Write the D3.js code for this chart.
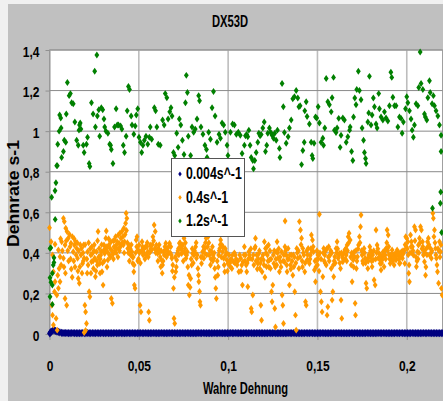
<!DOCTYPE html>
<html><head><meta charset="utf-8">
<script src="https://cdn.jsdelivr.net/npm/d3@7"></script>
<style>
html,body{margin:0;padding:0;background:#f0f0f0;}
svg{display:block;}
text{font-family:"Liberation Sans",Arial,sans-serif;}
</style></head><body>
<svg id="chart" width="443" height="401"></svg>
<script>
// Titles, legend names and tick values
const chartTitle = "DX53D";
const xTitle = "Wahre Dehnung";
const yTitle = "Dehnrate s-1";
const seriesNames = ["0.004s^-1", "0.4s^-1", "1.2s^-1"];
const seriesColors = ["#000080", "#ff9900", "#008000"];
const xTicks = [0, 0.05, 0.1, 0.15, 0.2];
const yTicks = [0, 0.2, 0.4, 0.6, 0.8, 1, 1.2, 1.4];

// Measured points: [wahre Dehnung, Dehnrate]
const rate0004 = [
[0.0002,0.003],[0.001,0.012],[0.0018,0.016],[0.0026,0.018],[0.0034,0.015],[0.0042,0.012],[0.005,0.010],[0.0058,0.008],
[0.0068,0.006],[0.0082,0.005],[0.0098,0.005],[0.0115,0.004],[0.0132,0.005],[0.015,0.004],[0.0168,0.004],[0.0186,0.005],
[0.0204,0.004],[0.0222,0.004],[0.024,0.005],[0.0258,0.004],[0.0276,0.004],[0.0294,0.005],[0.0312,0.004],[0.033,0.004],
[0.0348,0.004],[0.0366,0.005],[0.0384,0.004],[0.0402,0.004],[0.042,0.004],[0.0438,0.005],[0.0456,0.004],[0.0474,0.004],
[0.0492,0.004],[0.051,0.005],[0.0528,0.004],[0.0546,0.004],[0.0564,0.004],[0.0582,0.005],[0.06,0.004],[0.0618,0.004],
[0.0636,0.004],[0.0654,0.004],[0.0672,0.005],[0.069,0.004],[0.0708,0.004],[0.0726,0.004],[0.0744,0.005],[0.0762,0.004],
[0.078,0.004],[0.0798,0.004],[0.0816,0.004],[0.0834,0.005],[0.0852,0.004],[0.087,0.004],[0.0888,0.004],[0.0906,0.004],
[0.0924,0.005],[0.0942,0.004],[0.096,0.004],[0.0978,0.004],[0.0996,0.004],[0.1014,0.005],[0.1032,0.004],[0.105,0.004],
[0.1068,0.004],[0.1086,0.004],[0.1104,0.004],[0.1122,0.005],[0.114,0.004],[0.1158,0.004],[0.1176,0.004],[0.1194,0.004],
[0.1212,0.004],[0.123,0.005],[0.1248,0.004],[0.1266,0.004],[0.1284,0.004],[0.1302,0.004],[0.132,0.004],[0.1338,0.005],
[0.1356,0.004],[0.1374,0.004],[0.1392,0.004],[0.141,0.004],[0.1428,0.004],[0.1446,0.004],[0.1464,0.005],[0.1482,0.004],
[0.15,0.004],[0.1518,0.004],[0.1536,0.004],[0.1554,0.004],[0.1572,0.004],[0.159,0.005],[0.1608,0.004],[0.1626,0.004],
[0.1644,0.004],[0.1662,0.004],[0.168,0.004],[0.1698,0.004],[0.1716,0.005],[0.1734,0.004],[0.1752,0.004],[0.177,0.004],
[0.1788,0.004],[0.1806,0.004],[0.1824,0.004],[0.1842,0.005],[0.186,0.004],[0.1878,0.004],[0.1896,0.004],[0.1914,0.004],
[0.1932,0.004],[0.195,0.004],[0.1968,0.005],[0.1986,0.004],[0.2004,0.004],[0.2022,0.004],[0.204,0.004],[0.2058,0.004],
[0.2076,0.004],[0.2094,0.005],[0.2112,0.004],[0.213,0.004],[0.2148,0.004],[0.2166,0.004],[0.2184,0.004],[0.2202,0.004],
[0.0075,0.005],[0.009,0.005],[0.0106,0.004],[0.0123,0.005],[0.0141,0.004],[0.0159,0.004],[0.0177,0.004],[0.0195,0.004],
[0.0213,0.005],[0.0231,0.004],[0.0249,0.004],[0.0267,0.005],[0.0285,0.004],[0.0303,0.004],[0.0321,0.005],[0.0339,0.004],
[0.0357,0.004],[0.0375,0.004],[0.0393,0.005],[0.0411,0.004],[0.0429,0.004],[0.0447,0.004],[0.0465,0.005],[0.0483,0.004],
[0.0501,0.004],[0.0519,0.004],[0.0537,0.005],[0.0555,0.004],[0.0573,0.004],[0.0591,0.004],[0.0609,0.004],[0.0627,0.005],
[0.0645,0.004],[0.0663,0.004],[0.0681,0.004],[0.0699,0.005],[0.0717,0.004],[0.0735,0.004],[0.0753,0.004],[0.0771,0.005],
[0.0789,0.004],[0.0807,0.004],[0.0825,0.004],[0.0843,0.004],[0.0861,0.005],[0.0879,0.004],[0.0897,0.004],[0.0915,0.004],
[0.0933,0.004],[0.0951,0.005],[0.0969,0.004],[0.0987,0.004],[0.1005,0.004],[0.1023,0.004],[0.1041,0.005],[0.1059,0.004],
[0.1077,0.004],[0.1095,0.005],[0.1113,0.004],[0.1131,0.004],[0.1149,0.004],[0.1167,0.005],[0.1185,0.004],[0.1203,0.004],
[0.1221,0.004],[0.1239,0.004],[0.1257,0.005],[0.1275,0.004],[0.1293,0.004],[0.1311,0.004],[0.1329,0.004],[0.1347,0.004],
[0.1365,0.005],[0.1383,0.004],[0.1401,0.004],[0.1419,0.004],[0.1437,0.005],[0.1455,0.004],[0.1473,0.004],[0.1491,0.004],
[0.1509,0.004],[0.1527,0.005],[0.1545,0.004],[0.1563,0.004],[0.1581,0.004],[0.1599,0.004],[0.1617,0.005],[0.1635,0.004],
[0.1653,0.004],[0.1671,0.004],[0.1689,0.005],[0.1707,0.004],[0.1725,0.004],[0.1743,0.004],[0.1761,0.004],[0.1779,0.005],
[0.1797,0.004],[0.1815,0.004],[0.1833,0.004],[0.1851,0.004],[0.1869,0.005],[0.1887,0.004],[0.1905,0.004],[0.1923,0.004],
[0.1941,0.005],[0.1959,0.004],[0.1977,0.004],[0.1995,0.004],[0.2013,0.004],[0.2031,0.005],[0.2049,0.004],[0.2067,0.004],
[0.2085,0.004],[0.2103,0.004],[0.2121,0.005],[0.2139,0.004],[0.2157,0.004],[0.2175,0.004],[0.2193,0.004],[0.0006,0.008]
];

const rate04 = [
[0,0.524],[0.0009,0.455],[0.0017,0.39],[0.0022,0.307],[0.0031,0.258],[0.0028,0.208],[0.0017,0.093],[0.0022,0.044],
[0.0013,0.142],[0.0041,0.192],[0.0046,0.29],[0.0054,0.323],[0.005,0.225],[0.0059,0.258],[0.0065,0.34],[0.0037,0.077],
[0.0043,0.019],[0.0031,0.442],[0.005,0.414],[0.0059,0.381],[0.0068,0.455],[0.0078,0.57],[0.0083,0.554],[0.0091,0.521],
[0.0098,0.505],[0.0087,0.439],[0.0078,0.373],[0.0096,0.142],[0.0087,0.175],[0.0105,0.472],[0.0115,0.43],[0.012,0.447],
[0.0128,0.48],[0.0133,0.405],[0.0139,0.439],[0.0146,0.455],[0.0152,0.422],[0.0157,0.373],[0.0161,0.274],[0.0167,0.25],
[0.017,0.332],[0.0176,0.389],[0.0179,0.422],[0.0185,0.348],[0.0191,0.439],[0.0194,0.373],[0.0198,0.142],[0.0202,0.109],
[0.0207,0.052],[0.0194,0.007],[0.0202,0.017],[0.0213,0.405],[0.0216,0.34],[0.0222,0.208],[0.0226,0.184],[0.0231,0.389],
[0.0235,0.356],[0.024,0.397],[0.0246,0.323],[0.0253,0.373],[0.0257,0.282],[0.0263,0.405],[0.0268,0.34],[0.0272,0.505],
[0.0278,0.422],[0.0281,0.348],[0.0287,0.389],[0.029,0.405],[0.0294,0.307],[0.03,0.241],[0.0305,0.439],[0.0309,0.397],
[0.0315,0.472],[0.0318,0.508],[0.0324,0.405],[0.0327,0.365],[0.0333,0.439],[0.0339,0.422],[0.0344,0.455],[0.0346,0.175],
[0.0352,0.151],[0.0355,0.393],[0.0361,0.43],[0.0364,0.463],[0.037,0.48],[0.0376,0.422],[0.0379,0.455],[0.0385,0.488],
[0.039,0.447],[0.0394,0.497],[0.04,0.472],[0.0405,0.505],[0.0411,0.48],[0.0416,0.521],[0.042,0.455],[0.0426,0.546],
[0.0429,0.595],[0.0433,0.57],[0.0438,0.422],[0.0444,0.439],[0.045,0.397],[0.0455,0.389],[0.0461,0.405],[0.0466,0.348],
[0.0472,0.307],[0.0475,0.241],[0.0479,0.225],[0.0485,0.463],[0.049,0.48],[0.0496,0.414],[0.0501,0.439],[0.0507,0.142],
[0.0512,0.109],[0.0518,0.455],[0.0524,0.389],[0.0531,0.422],[0.0537,0.43],[0.0542,0.389],[0.055,0.405],[0.0555,0.109],
[0.0559,0.068],[0.0564,0.439],[0.0572,0.414],[0.0579,0.48],[0.0586,0.537],[0.0592,0.505],[0.0598,0.439],[0.0605,0.397],
[0.061,0.422],[0.0616,0.405],[0.0623,0.332],[0.0627,0.365],[0.0633,0.34],[0.0638,0.405],[0.0646,0.43],[0.0651,0.447],
[0.0657,0.422],[0.0664,0.397],[0.0672,0.447],[0.0679,0.43],[0.0685,0.373],[0.069,0.34],[0.0694,0.225],[0.0697,0.077],
[0.0701,0.052],[0.0707,0.307],[0.0712,0.365],[0.0716,0.397],[0.0722,0.422],[0.0727,0.447],[0.0734,0.422],[0.074,0.397],
[0.0746,0.439],[0.0753,0.472],[0.0759,0.422],[0.0764,0.373],[0.0771,0.405],[0.0777,0.241],[0.0783,0.192],[0.079,0.274],
[0.0796,0.34],[0.0801,0.397],[0.0808,0.389],[0.0818,0.43],[0.0823,0.373],[0.0831,0.323],[0.0836,0.258],[0.0842,0.159],
[0.0845,0.142],[0.0851,0.348],[0.0857,0.405],[0.0864,0.373],[0.087,0.422],[0.0877,0.472],[0.0882,0.513],[0.0888,0.48],
[0.0894,0.389],[0.0901,0.34],[0.0907,0.405],[0.0912,0.43],[0.092,0.373],[0.0925,0.323],[0.0931,0.225],[0.0934,0.175],
[0.0942,0.29],[0.0947,0.389],[0.0953,0.422],[0.0958,0.463],[0.0964,0.439],[0.0969,0.405],[0.0975,0.373],[0.0981,0.307],
[0.0986,0.389],[0.0993,0.365],[0.0999,0.348],[0.1005,0.389],[0.1012,0.332],[0.1021,0.323],[0.103,0.356],[0.104,0.389],
[0.105,0.34],[0.106,0.307],[0.107,0.373],[0.108,0.241],[0.1083,0.356],
[0.1091,0.43],[0.1097,0.389],[0.1104,0.307],[0.111,0.233],[0.1116,0.405],[0.1123,0.373],[0.1129,0.126],[0.1132,0.109],
[0.1138,0.192],[0.1144,0.34],[0.1149,0.422],[0.1153,0.472],[0.116,0.389],[0.1166,0.348],[0.1172,0.397],[0.1177,0.323],
[0.1183,0.142],[0.1187,0.068],[0.119,0.307],[0.1198,0.365],[0.1203,0.455],[0.1209,0.422],[0.1215,0.332],[0.122,0.389],
[0.1226,0.439],[0.1231,0.365],[0.1237,0.323],[0.1243,0.208],[0.1246,0.159],[0.125,0.241],[0.1256,0.348],[0.1261,0.126],
[0.1265,0.035],[0.1269,0.405],[0.1274,0.455],[0.128,0.373],[0.1287,0.307],[0.1293,0.356],[0.1299,0.405],[0.1302,0.192],
[0.1306,0.142],[0.131,0.052],[0.1315,0.356],[0.1319,0.557],[0.1325,0.389],[0.133,0.307],[0.1336,0.422],[0.1343,0.241],
[0.1349,0.34],[0.1354,0.389],[0.1362,0.29],[0.1368,0.332],[0.1373,0.208],[0.1377,0.093],[0.1381,0.019],[0.1384,0.422],
[0.139,0.373],[0.1396,0.323],[0.1399,0.554],[0.1405,0.513],[0.1411,0.472],[0.1418,0.422],[0.1424,0.389],[0.1429,0.307],
[0.1433,0.159],[0.1437,0.142],[0.1442,0.365],[0.1448,0.422],[0.1455,0.348],[0.1461,0.389],[0.1466,0.488],[0.1472,0.463],
[0.1478,0.405],[0.1483,0.315],[0.1489,0.258],[0.1493,0.365],[0.15,0.34],[0.1507,0.389],[0.1511,0.59],[0.1517,0.208],
[0.1522,0.159],[0.1526,0.109],[0.153,0.282],[0.1535,0.422],[0.1541,0.389],[0.1549,0.34],[0.1554,0.093],[0.1558,0.134],
[0.1563,0.43],[0.1571,0.389],[0.1577,0.323],[0.1582,0.167],[0.1586,0.208],[0.1591,0.282],[0.1597,0.381],[0.1604,0.422],
[0.161,0.455],[0.1616,0.373],[0.1623,0.397],[0.1629,0.323],[0.1632,0.167],[0.1636,0.077],[0.1642,0.356],[0.1647,0.397],
[0.1653,0.414],[0.1661,0.389],[0.1666,0.439],[0.1672,0.48],[0.1677,0.497],[0.1683,0.463],[0.1689,0.34],[0.1694,0.258],
[0.17,0.365],[0.1706,0.405],[0.1711,0.151],[0.1713,0.093],[0.1718,0.323],[0.1724,0.381],[0.173,0.439],[0.1735,0.48],
[0.1741,0.529],[0.1744,0.587],[0.175,0.389],[0.1756,0.348],[0.1761,0.422],[0.1767,0.373],[0.1772,0.25],[0.1776,0.225],
[0.1782,0.323],[0.1787,0.389],[0.1793,0.43],[0.18,0.405],[0.1806,0.332],[0.1812,0.365],[0.1817,0.266],[0.1823,0.241],
[0.1828,0.513],[0.1834,0.439],[0.184,0.373],[0.1845,0.397],[0.1851,0.348],[0.1856,0.315],[0.1862,0.365],[0.1868,0.405],
[0.1873,0.332],[0.1879,0.389],[0.1884,0.422],[0.189,0.513],[0.1896,0.488],[0.1901,0.389],[0.1907,0.348],[0.1912,0.373],
[0.1918,0.414],[0.1924,0.389],[0.1929,0.34],[0.1935,0.397],[0.194,0.365],[0.1946,0.414],[0.1952,0.389],[0.1959,0.348],
[0.1965,0.381],[0.197,0.405],[0.1976,0.373],[0.1981,0.397],[0.1989,0.348],[0.1994,0.48],[0.2,0.472],[0.2006,0.455],
[0.2011,0.299],[0.2015,0.258],[0.2021,0.488],[0.2026,0.455],[0.2032,0.43],[0.2037,0.389],[0.2043,0.529],[0.2049,0.513],
[0.2054,0.332],[0.206,0.405],[0.2065,0.439],[0.2071,0.472],[0.2077,0.529],[0.2082,0.513],[0.2088,0.455],[0.2093,0.389],
[0.2099,0.356],[0.2105,0.29],[0.211,0.422],[0.2116,0.455],[0.2121,0.472],[0.2127,0.389],[0.2133,0.422],[0.2138,0.373],
[0.2146,0.595],[0.2149,0.57],[0.2155,0.513],[0.2161,0.422],[0.2166,0.373],[0.2172,0.307],[0.2178,0.25],[0.2183,0.455],
[0.2189,0.405],[0.2194,0.225],[0.2198,0.192],
// dense core of the band
[0.0102,0.41],[0.0118,0.37],[0.0136,0.36],[0.0149,0.39],[0.0163,0.41],[0.0188,0.40],[0.0209,0.37],[0.0228,0.42],
[0.0249,0.41],[0.0265,0.36],[0.0284,0.37],[0.0302,0.41],[0.0321,0.43],[0.0336,0.39],[0.0358,0.37],[0.0373,0.40],
[0.0388,0.42],[0.0403,0.44],[0.0418,0.40],[0.0436,0.45],[0.0452,0.42],[0.0469,0.38],[0.0482,0.40],[0.0498,0.37],
[0.0515,0.41],[0.0528,0.40],[0.0545,0.43],[0.0561,0.40],[0.0575,0.44],[0.0589,0.42],[0.0602,0.41],[0.062,0.38],
[0.0642,0.39],[0.0661,0.41],[0.0676,0.40],[0.0704,0.38],[0.0719,0.41],[0.0737,0.43],[0.0756,0.40],[0.0768,0.39],
[0.0793,0.37],[0.0812,0.41],[0.0827,0.39],[0.0848,0.38],[0.0867,0.40],[0.0885,0.43],[0.0898,0.41],[0.0916,0.39],
[0.0939,0.36],[0.095,0.41],[0.0972,0.43],[0.0991,0.40],[0.1008,0.36],[0.1017,0.37],[0.1035,0.40],[0.1045,0.37],
[0.1065,0.39],[0.1076,0.34],[0.1094,0.36],[0.1107,0.35],[0.1119,0.39],[0.1135,0.37],[0.1156,0.36],[0.1169,0.37],
[0.1181,0.35],[0.1195,0.39],[0.1212,0.40],[0.1223,0.36],[0.1234,0.41],[0.1253,0.39],[0.1267,0.37],[0.1277,0.40],
[0.1291,0.38],[0.1312,0.39],[0.1322,0.41],[0.1333,0.37],[0.1346,0.39],[0.1358,0.36],[0.1371,0.38],[0.1387,0.40],
[0.1402,0.38],[0.1414,0.36],[0.1421,0.40],[0.1445,0.39],[0.1458,0.37],[0.1469,0.41],[0.1486,0.36],[0.1497,0.41],
[0.1504,0.37],[0.1514,0.40],[0.1538,0.36],[0.1546,0.41],[0.1561,0.38],[0.1574,0.41],[0.1594,0.36],[0.1607,0.40],
[0.162,0.39],[0.1639,0.38],[0.1656,0.37],[0.1668,0.41],[0.1686,0.38],[0.1697,0.39],[0.1709,0.38],[0.1721,0.36],
[0.1747,0.41],[0.1764,0.40],[0.1779,0.37],[0.1797,0.41],[0.1809,0.39],[0.1831,0.40],[0.1848,0.37],[0.1865,0.38],
[0.1876,0.41],[0.1893,0.41],[0.1904,0.37],[0.1921,0.36],[0.1938,0.38],[0.1955,0.37],[0.1973,0.39],[0.1986,0.41],
[0.2003,0.42],[0.2018,0.40],[0.2035,0.41],[0.2052,0.38],[0.2068,0.40],[0.2085,0.42],[0.2102,0.40],[0.2119,0.43],
[0.2136,0.40],[0.2158,0.45],[0.2175,0.42],[0.2186,0.38],
[0.0062,0.47],[0.0072,0.41],[0.0081,0.33],[0.0089,0.30],[0.0094,0.46],[0.0107,0.36],[0.0112,0.49],[0.0122,0.32],
[0.0127,0.28],[0.0138,0.47],[0.0143,0.33],[0.0155,0.45],[0.0159,0.31],[0.0172,0.44],[0.0182,0.30],[0.0189,0.36],
[0.0199,0.44],[0.0211,0.30],[0.0219,0.45],[0.0232,0.30],[0.0237,0.43],[0.0244,0.36],[0.0251,0.44],[0.026,0.31],
[0.0269,0.46],[0.0275,0.38],[0.0283,0.30],[0.0292,0.44],[0.0297,0.35],[0.0307,0.36],[0.0313,0.42],[0.0322,0.33],
[0.0331,0.47],[0.0341,0.38],[0.0349,0.41],[0.0357,0.46],[0.0367,0.41],[0.0375,0.44],[0.0383,0.38],[0.0392,0.41],
[0.0397,0.43],[0.0408,0.45],[0.0414,0.44],[0.0423,0.49],[0.0431,0.51],[0.0441,0.40],[0.0447,0.36],[0.0458,0.44],
[0.0464,0.38],[0.0474,0.34],[0.0488,0.43],[0.0494,0.36],[0.0504,0.40],[0.0509,0.35],[0.0521,0.43],[0.0534,0.37],
[0.0547,0.45],[0.0553,0.38],[0.0567,0.42],[0.0583,0.46],[0.0595,0.40],[0.0607,0.36],[0.0614,0.44],[0.0625,0.41],
[0.0631,0.30],[0.0636,0.36],[0.0649,0.41],[0.0655,0.38],[0.0667,0.43],[0.0682,0.39],[0.0688,0.31],[0.0699,0.28],
[0.071,0.33],[0.0724,0.39],[0.0731,0.45],[0.0743,0.41],[0.0749,0.36],[0.0761,0.45],[0.0774,0.33],[0.0781,0.29],
[0.0787,0.23],[0.0799,0.42],[0.0805,0.35],[0.0815,0.40],[0.0821,0.45],[0.0834,0.29],[0.084,0.21],[0.0855,0.38],
[0.0862,0.43],[0.0873,0.45],[0.088,0.39],[0.0892,0.45],[0.0904,0.37],[0.0914,0.36],[0.0922,0.40],[0.0928,0.28],
[0.0945,0.33],[0.0956,0.44],[0.0962,0.38],[0.0978,0.34],[0.0984,0.42],[0.0996,0.31],[0.101,0.35],[0.1025,0.39],
[0.1038,0.35],[0.1055,0.36],[0.1072,0.31],[0.1089,0.39],[0.1101,0.34],[0.1113,0.37],[0.1127,0.42],[0.1141,0.39],
[0.1152,0.43],[0.1163,0.32],[0.1175,0.41],[0.1186,0.37],[0.1201,0.34],[0.1206,0.28],[0.1218,0.43],[0.1228,0.33],
[0.124,0.37],[0.1258,0.41],[0.1264,0.33],[0.1272,0.34],[0.1283,0.42],[0.1296,0.33],[0.1308,0.36],[0.1318,0.43],
[0.1328,0.34],[0.134,0.37],[0.1351,0.32],[0.1365,0.39],[0.1379,0.35],[0.1393,0.41],[0.1408,0.44],[0.1416,0.33],
[0.1431,0.35],[0.144,0.41],[0.1452,0.36],[0.1463,0.42],[0.1476,0.43],[0.1491,0.33],[0.1502,0.39],[0.1509,0.31],
[0.152,0.37],[0.1532,0.40],[0.1543,0.35],[0.1552,0.42],[0.1566,0.36],[0.158,0.40],[0.1589,0.34],[0.16,0.35],
[0.1613,0.42],[0.1625,0.35],[0.1634,0.40],[0.1645,0.37],[0.1659,0.42],[0.1664,0.36],[0.1675,0.45],[0.1692,0.40],
[0.1703,0.33],[0.1715,0.41],[0.1727,0.42],[0.1738,0.45],[0.1753,0.36],[0.1759,0.40],[0.177,0.35],[0.1785,0.36],
[0.1795,0.38],[0.1803,0.36],[0.1815,0.41],[0.1826,0.37],[0.1838,0.42],[0.1853,0.39],[0.1859,0.35],[0.187,0.39],
[0.1882,0.37],[0.1888,0.45],[0.1899,0.43],[0.191,0.39],[0.1916,0.39],[0.1927,0.37],[0.1944,0.39],[0.1957,0.40],
[0.1962,0.35],[0.1979,0.41],[0.1991,0.44],[0.1997,0.43],[0.2008,0.39],[0.2013,0.34],[0.2024,0.43],[0.2029,0.40],
[0.2046,0.46],[0.2057,0.36],[0.2063,0.37],[0.2074,0.45],[0.209,0.43],[0.2096,0.41],[0.2107,0.33],[0.2113,0.39],
[0.2124,0.44],[0.2141,0.41],[0.2152,0.48],[0.2163,0.39],[0.2169,0.34],[0.218,0.41],[0.2191,0.44]
];

const rate12 = [
[0.0003,0.422],[0.0007,0.425],[0.0025,0.376],[0.0025,0.353],[0.0021,0.34],[0.0016,0.299],[0.0003,0.277],[0.0008,0.255],
[0.0016,0.241],[0.0003,0.184],[0.0016,0.146],[0.0032,0.565],[0.0012,0.674],[0.0031,0.706],[0.0036,0.746],[0.004,0.83],
[0.0044,0.83],[0.0068,0.87],[0.0078,0.90],[0.0046,0.935],[0.0054,1.0],[0.0065,1.015],[0.0057,1.08],[0.0063,1.065],
[0.01,1.24],[0.011,1.175],[0.0117,1.185],[0.0124,1.14],[0.0133,1.135],[0.0094,1.085],[0.0083,0.955],[0.0091,0.945],
[0.0142,1.045],[0.0152,0.955],[0.0161,0.93],[0.0168,1.03],[0.0176,1.01],[0.0172,1.04],[0.0165,1.005],[0.0189,0.93],
[0.0194,0.895],[0.0207,0.935],[0.0213,0.97],[0.0222,0.84],[0.0226,0.826],[0.0235,1.14],[0.0244,1.085],[0.0253,1.295],
[0.0265,1.375],[0.0257,1.02],[0.0268,1.075],[0.0276,1.105],[0.0281,0.975],[0.029,1.115],[0.0298,1.105],[0.0305,1.06],
[0.0309,1.02],[0.0316,1.0],[0.0327,0.99],[0.0337,0.935],[0.0342,0.93],[0.0355,0.84],[0.0346,0.91],[0.0364,1.02],
[0.0373,1.11],[0.0379,1.03],[0.0386,1.03],[0.0398,1.025],[0.0405,1.01],[0.0413,0.93],[0.042,0.895],[0.0429,0.975],
[0.0435,1.1],[0.0442,1.22],[0.0448,1.205],[0.0457,1.075],[0.0462,1.03],[0.0472,0.985],[0.048,1.025],[0.0486,1.08],
[0.0494,1.11],[0.0501,0.97],[0.0509,0.945],[0.0516,0.895],[0.0523,0.93],[0.0531,0.955],[0.054,0.975],[0.055,0.935],
[0.0559,0.97],[0.0564,1.02],[0.0572,0.96],[0.0587,1.115],[0.0594,1.1],[0.0601,1.02],[0.0609,0.935],[0.062,0.93],
[0.0633,1.055],[0.0642,1.03],[0.0648,1.185],[0.0657,1.165],[0.0664,1.06],[0.0673,1.095],[0.068,1.115],[0.0686,1.075],
[0.0694,0.895],[0.0701,0.88],[0.0712,0.99],[0.072,0.92],[0.0727,1.06],[0.0735,1.03],[0.0744,0.955],[0.0753,0.885],
[0.0761,1.14],[0.0766,1.275],[0.0772,1.19],[0.0777,0.975],[0.079,0.88],[0.0798,1.02],[0.0807,0.995],[0.0816,1.01],
[0.0826,1.06],[0.0835,1.175],[0.084,1.15],[0.0848,1.02],[0.0859,0.985],[0.087,0.93],[0.0879,0.91],[0.0882,0.87],
[0.0891,0.995],[0.0901,0.96],[0.091,1.115],[0.0918,1.195],[0.0927,1.075],[0.0938,0.945],[0.0949,0.985],[0.0957,0.965],
[0.0966,1.04],[0.0975,1.03],[0.0984,0.995],[0.0994,0.93],[0.0999,0.88],[0.1013,0.995],[0.1025,1.035],[0.1035,1.03],
[0.1046,0.985],[0.1057,0.995],[0.1068,0.98],[0.1078,0.89],
[0.1091,0.93],[0.1097,0.977],[0.1104,0.984],[0.1116,1.005],[0.111,0.972],[0.1123,0.93],[0.1129,0.87],[0.1138,0.855],
[0.1142,0.815],[0.1149,0.855],[0.1157,0.895],[0.1166,0.945],[0.1172,0.99],[0.1179,0.977],[0.1185,0.984],[0.1194,1.015],
[0.1202,1.045],[0.1209,0.9],[0.1216,0.93],[0.1222,0.99],[0.1231,1.015],[0.1239,0.993],[0.1246,0.98],[0.1254,0.965],
[0.1261,0.99],[0.1269,0.955],[0.1276,1.005],[0.1287,0.915],[0.129,0.87],[0.1302,1.235],[0.1309,1.12],[0.1315,0.993],
[0.1325,0.94],[0.1336,0.972],[0.1343,1.015],[0.1353,1.055],[0.1362,1.16],[0.1371,1.17],[0.1381,1.2],[0.139,1.163],
[0.1396,1.12],[0.1403,1.125],[0.1411,0.835],[0.1418,0.905],[0.1426,0.945],[0.1429,1.1],[0.1437,1.145],[0.1442,1.072],
[0.1455,1.035],[0.1465,0.945],[0.147,0.88],[0.1474,0.865],[0.1481,0.94],[0.1489,1.07],[0.1496,1.065],[0.1504,1.12],
[0.1511,1.04],[0.152,0.945],[0.153,0.965],[0.1534,0.93],[0.1541,1.015],[0.1549,1.26],[0.1558,1.145],[0.1567,1.13],
[0.1577,1.095],[0.1582,1.165],[0.159,1.265],[0.1595,1.005],[0.1604,0.993],[0.161,1.015],[0.1619,1.063],[0.1627,0.92],
[0.1632,0.98],[0.1642,1.065],[0.1651,1.055],[0.1661,0.945],[0.167,0.972],[0.168,1.005],[0.1683,1.02],[0.1691,0.9],
[0.1698,0.855],[0.1702,1.07],[0.1709,1.163],[0.1716,1.13],[0.172,1.205],[0.1729,1.295],[0.1735,1.2],[0.1744,1.155],
[0.175,1.015],[0.1758,0.955],[0.1763,0.895],[0.1769,0.865],[0.1772,0.84],[0.1782,1.045],[0.1787,1.09],[0.1791,1.27],
[0.18,1.03],[0.1806,1.08],[0.1813,1.163],[0.1819,1.12],[0.1828,1.035],[0.1834,1.015],[0.1843,1.185],[0.1847,1.11],
[0.1856,1.07],[0.1866,1.055],[0.1875,1.095],[0.1884,1.065],[0.1894,1.05],[0.1903,1.125],[0.1911,1.29],[0.1916,1.265],
[0.1922,1.167],[0.1931,1.125],[0.194,1.125],[0.195,1.02],[0.1959,1.07],[0.1968,1.063],[0.1974,0.99],[0.1981,1.045],
[0.1993,1.11],[0.2,1.17],[0.2006,1.14],[0.2015,1.1],[0.2024,1.06],[0.203,1.005],[0.2037,0.97],[0.2043,1.03],
[0.2052,1.135],[0.2062,1.125],[0.2067,1.215],[0.2075,1.39],[0.208,1.235],[0.209,1.205],[0.2099,1.085],[0.2104,1.07],
[0.2112,1.055],[0.2118,1.165],[0.2127,1.248],[0.2131,1.19],[0.2142,1.135],[0.2149,1.175],[0.2155,1.125],[0.2164,1.1],
[0.2174,1.075],[0.2183,1.03],[0.2192,0.98],[0.2192,0.9],[0.2188,0.645],[0.2144,0.62],[0.219,0.70],[0.2195,0.50]
];

const series = [rate0004, rate04, rate12];

// ---- drawing ----
const W = 443, H = 401;
const svg = d3.select("#chart");
const fmt = d3.formatLocale({decimal: ",", thousands: ".", grouping: [3], currency: ["", "€"]}).format("~g");

// grey chart area inside the light window frame
svg.append("rect").attr("x", 8).attr("y", 4).attr("width", W - 8).attr("height", H - 4).attr("fill", "#c0c0c0");

const plot = {left: 49.5, right: 442.5, top: 50, bottom: 334};
const x = d3.scaleLinear().domain([0, 0.22]).range([plot.left, plot.right]);
const y = d3.scaleLinear().domain([0, 1.4]).range([plot.bottom, plot.top]);

svg.append("rect")
  .attr("x", plot.left).attr("y", plot.top)
  .attr("width", plot.right - plot.left).attr("height", plot.bottom - plot.top)
  .attr("fill", "#fff").attr("stroke", "#a0a0a0").attr("stroke-width", 1);

// grid
svg.append("g").selectAll("line").data(xTicks.filter(d => d > 0)).join("line")
  .attr("x1", d => x(d)).attr("x2", d => x(d))
  .attr("y1", plot.top).attr("y2", plot.bottom)
  .attr("stroke", "#bdbdbd").attr("stroke-width", 1.6);
svg.append("g").selectAll("line").data(yTicks.filter(d => d > 0)).join("line")
  .attr("x1", plot.left).attr("x2", plot.right)
  .attr("y1", d => y(d)).attr("y2", d => y(d))
  .attr("stroke", "#8a8a8a").attr("stroke-width", 1);

// axes
const yAxis = svg.append("g").attr("transform", `translate(${plot.left},0)`)
  .call(d3.axisLeft(y).tickValues(yTicks).tickFormat(fmt).tickSize(4).tickSizeOuter(0));
const xAxis = svg.append("g").attr("transform", `translate(0,${plot.bottom})`)
  .call(d3.axisBottom(x).tickValues(xTicks).tickFormat(fmt).tickSize(6).tickSizeOuter(0));
[xAxis, yAxis].forEach(g => {
  g.select(".domain").attr("stroke", "#909090");
  g.selectAll(".tick line").attr("stroke", "#909090");
});
yAxis.selectAll(".tick text")
  .attr("x", 0).attr("dy", null).attr("y", 0)
  .attr("transform", "translate(-10,6) scale(0.8,1)")
  .attr("font-size", 15).attr("font-weight", "bold").attr("fill", "#000")
  .attr("font-family", "Liberation Sans, Arial, sans-serif");
xAxis.selectAll(".tick text")
  .attr("y", 0).attr("dy", null)
  .attr("transform", "translate(0,36.5) scale(0.8,1)")
  .attr("font-size", 15).attr("font-weight", "bold").attr("fill", "#000")
  .attr("font-family", "Liberation Sans, Arial, sans-serif");

// markers
const diamond = {
  draw(ctx, size) {
    const w = Math.sqrt(size) * 0.5, h = w * 1.45;
    ctx.moveTo(0, -h); ctx.lineTo(w, 0); ctx.lineTo(0, h); ctx.lineTo(-w, 0); ctx.closePath();
  }
};
const markerSizes = [32, 23, 23];
series.forEach((pts, i) => {
  svg.append("g").attr("fill", seriesColors[i])
    .selectAll("path").data(pts).join("path")
    .attr("transform", d => `translate(${x(d[0])},${y(d[1])})`)
    .attr("d", d3.symbol(diamond, markerSizes[i]));
});

// titles
svg.append("text").text(chartTitle)
  .attr("x", 230).attr("y", 26.7).attr("text-anchor", "middle")
  .attr("font-size", 16).attr("font-weight", "bold")
  .attr("textLength", 36).attr("lengthAdjust", "spacingAndGlyphs");
svg.append("text").text(xTitle)
  .attr("x", 245.5).attr("y", 394).attr("text-anchor", "middle")
  .attr("font-size", 16).attr("font-weight", "bold")
  .attr("textLength", 85).attr("lengthAdjust", "spacingAndGlyphs");
svg.append("text").text(yTitle)
  .attr("transform", "translate(19,193.5) rotate(-90)").attr("text-anchor", "middle")
  .attr("font-size", 16).attr("font-weight", "bold")
  .attr("textLength", 107).attr("lengthAdjust", "spacingAndGlyphs");

// legend
const lg = svg.append("g");
lg.append("rect").attr("x", 171.5).attr("y", 158.5).attr("width", 73).attr("height", 78)
  .attr("fill", "#fff").attr("stroke", "#555").attr("stroke-width", 1);
seriesNames.forEach((name, i) => {
  const cy = 174 + i * 23.5;
  lg.append("path").attr("transform", `translate(180,${cy})`)
    .attr("d", d3.symbol(diamond, 12)).attr("fill", seriesColors[i]);
  lg.append("text").text(name)
    .attr("transform", `translate(186,${cy + 5.4}) scale(0.77,1)`)
    .attr("font-size", 16).attr("font-weight", "bold");
});
</script>
</body></html>
